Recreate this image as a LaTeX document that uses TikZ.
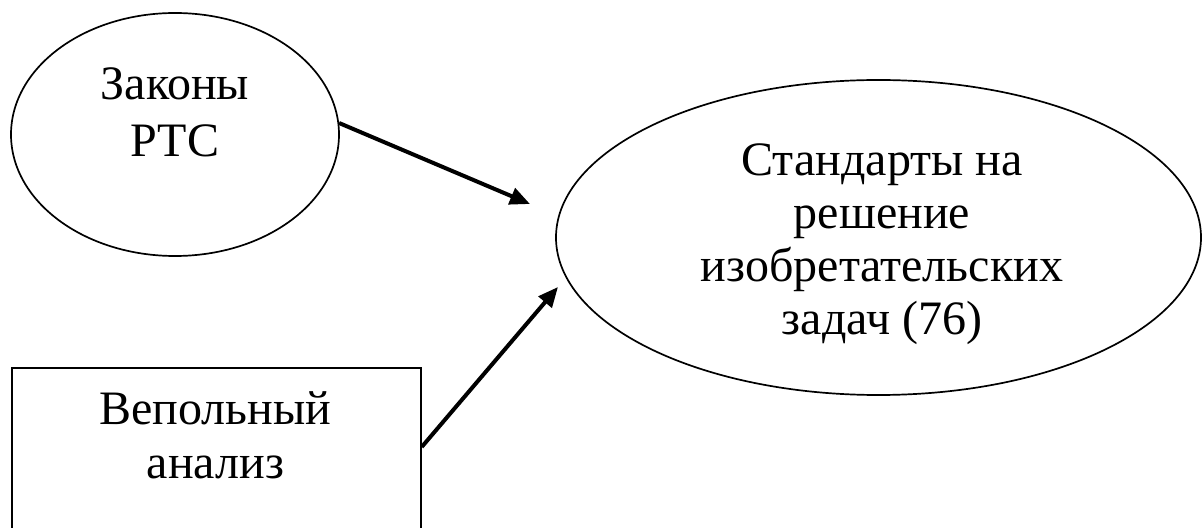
\documentclass[tikz,border=0pt]{standalone}
\usepackage{fontspec}
\setmainfont{Liberation Serif}
\usetikzlibrary{arrows.meta,shapes.geometric}
\tikzset{
  outline/.style={draw=black, line width=1.7bp, inner sep=0pt},
  ovalbox/.style={outline, ellipse},
  rectbox/.style={outline, rectangle, anchor=north west},
  lbl/.style={anchor=base, inner sep=0pt, font=\fontsize{48bp}{54bp}\selectfont},
  conn/.style={draw=black, line width=4bp, -{Triangle[length=20bp,width=17bp]}}
}
\begin{document}
\begin{tikzpicture}[x=1bp,y=-1bp]
  \useasboundingbox (0,0) rectangle (1202,528);
  \fill[white] (0,0) rectangle (1202,528);

  % left ellipse
  \node[ovalbox, minimum width=328bp, minimum height=243bp] (laws) at (175,134.5) {};
  \node[lbl] (lawsA) at (175,100) {Законы};
  \node[lbl] (lawsB) at (175,157) {РТС};

  % big ellipse
  \node[ovalbox, minimum width=645bp, minimum height=315bp] (std) at (878.5,237.5) {};
  \node[lbl] (stdA) at (882,176) {Стандарты на};
  \node[lbl] (stdB) at (882,229) {решение};
  \node[lbl] (stdC) at (882,282) {изобретательских};
  \node[lbl] (stdD) at (882,335) {задач (76)};

  % rectangle (bottom edge lies outside the picture)
  \node[rectbox, minimum width=409bp, minimum height=200bp] (box) at (11,367) {};
  \node[lbl] (boxA) at (215.5,424) {Вепольный};
  \node[lbl] (boxB) at (215.5,478) {анализ};

  % arrow end points
  \coordinate (tip1) at (530,204);
  \coordinate (tip2) at (558,287);
  \coordinate (boxout) at ([yshift=-80bp]box.north east);

  \draw[conn] (laws.4) -- (tip1);
  \draw[conn] (boxout) -- (tip2);
\end{tikzpicture}
\end{document}
